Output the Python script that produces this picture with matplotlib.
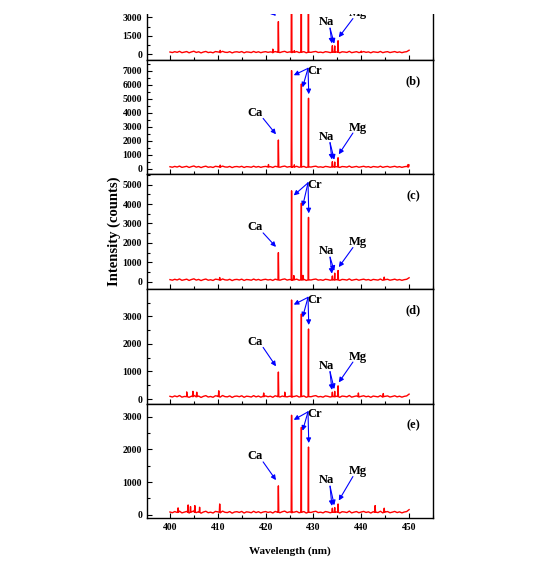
import numpy as np
import matplotlib.pyplot as plt
from matplotlib.ticker import MultipleLocator
from matplotlib.patches import Rectangle

plt.rcParams['font.family'] = ['Liberation Serif', 'DejaVu Serif']
plt.rcParams['font.weight'] = 'bold'

# emission lines (nm)
wl_ca = 422.67
wl_cr = [425.43, 427.48, 428.97]
wl_na = [433.96, 434.45]
wl_mg = 435.15

# peak heights per panel (a..e)
ca_h = [2650, 2050, 1500, 980, 885]
cr_h = [[12000, 11000, 10000], [7000, 6050, 5030], [4680, 4050, 3315],
        [3590, 3085, 2540], [3050, 2680, 2075]]
na_h = [[700, 680], [500, 480], [300, 445], [250, 280], [200, 220]]
mg_h = [1100, 785, 580, 480, 330]

# small spikes in the background (wl, counts)
spikes = [
    [(410.5, 320), (421.5, 420), (426.0, 300), (440.0, 260)],
    [(410.5, 260), (420.6, 300), (426.0, 280), (449.8, 300)],
    [(410.4, 220), (425.9, 320), (427.8, 330), (444.8, 240)],
    [(403.5, 260), (404.8, 280), (405.6, 250), (410.2, 300), (419.6, 220),
     (424.0, 250), (439.4, 220), (444.6, 200)],
    [(401.7, 210), (403.8, 300), (404.3, 250), (405.2, 280), (406.2, 230),
     (410.4, 330), (442.9, 280), (444.8, 200)],
]

# background ripple, 400..450 nm in 0.5 nm steps (relative units)
ripple = [0.2, -0.3, 0.5, -0.1, 0.8, -0.4, 0.1, 0.6, -0.5, 0.3,
          0.9, -0.2, 0.4, -0.6, 0.2, 0.7, -0.3, 0.1, -0.5, 0.6,
          0.3, -0.4, 0.8, 0.0, -0.2, 0.5, -0.6, 0.2, 0.4, -0.1,
          0.6, -0.5, 0.3, 0.1, -0.3, 0.7, -0.2, 0.4, -0.4, 0.2,
          0.5, -0.1, 0.3, -0.5, 0.6, 0.0, -0.3, 0.4, 0.8, -0.2,
          0.3, -0.4, 0.1, 0.6, -0.3, 0.2, 0.5, -0.5, 0.3, -0.1,
          0.4, 0.7, -0.2, 0.1, -0.4, 0.5, 0.2, -0.3, 0.6, -0.1,
          0.3, -0.5, 0.4, 0.2, -0.2, 0.8, -0.4, 0.1, 0.5, -0.3,
          0.2, 0.6, -0.1, 0.3, -0.5, 0.4, 0.1, -0.2, 0.7, -0.4,
          0.2, 0.5, -0.3, 0.1, 0.6, -0.2, 0.3, -0.4, 0.2, 0.5, 1.8]

base = [170, 130, 100, 90, 75]
noise_amp = [90, 75, 60, 50, 45]

ylims = [(-460, 8820), (-410, 7760), (-370, 5520), (-160, 3990), (-100, 3410)]
ystep = [1500, 1000, 1000, 1000, 1000]
labels = ['(a)', '(b)', '(c)', '(d)', '(e)']

fig = plt.figure(figsize=(5.54, 5.72), dpi=100)
W, H = 554.0, 572.0
left, width = 147 / W, 286 / W
ph = 114.5
tops = [-54.5, 60, 174.5, 289, 403.5]

for i in range(5):
    ax = fig.add_axes([left, 1 - (tops[i] + ph) / H, width, ph / H])
    grid = np.linspace(400, 450, len(ripple))
    yb = base[i] + noise_amp[i] * np.array(ripple)
    pts = list(zip(grid, yb))
    peaks = [(wl_ca, ca_h[i]), (wl_mg, mg_h[i])]
    peaks += list(zip(wl_cr, cr_h[i])) + list(zip(wl_na, na_h[i]))
    peaks += spikes[i]
    for px, hh in peaks:
        pts += [(px - 0.08, base[i]), (px, hh), (px + 0.08, base[i])]
    pts.sort()
    xs = [p[0] for p in pts]
    ys = [p[1] for p in pts]
    ax.plot(xs, ys, color='red', lw=1.0)

    ax.set_xlim(395.2, 455)
    ax.set_ylim(*ylims[i])
    ax.xaxis.set_major_locator(MultipleLocator(10))
    ax.xaxis.set_minor_locator(MultipleLocator(5))
    ax.yaxis.set_major_locator(MultipleLocator(ystep[i]))
    ax.yaxis.set_minor_locator(MultipleLocator(ystep[i] / 2))
    ax.tick_params(which='both', direction='in', labelsize=7, width=0.8)
    ax.tick_params(which='major', length=3.5)
    ax.tick_params(which='minor', length=2)
    ax.set_xticks(range(400, 451, 10))
    ax.set_yticks(range(0, int(ylims[i][1]), ystep[i]))
    for lab in ax.get_yticklabels() + ax.get_xticklabels():
        lab.set_fontweight('bold')
    if i < 4:
        ax.tick_params(labelbottom=False)
    for s in ax.spines.values():
        s.set_linewidth(1.0)

    R = ylims[i][1] - ylims[i][0]
    arr = dict(arrowstyle='-|>', color='blue', lw=0.8, mutation_scale=7,
               shrinkA=0, shrinkB=0)
    tf = dict(transform=ax.transAxes, ha='center', va='center',
              fontsize=9, fontweight='bold')
    ax.text(0.378, 0.54, 'Ca', **tf)
    ax.text(0.585, 0.905, 'Cr', **tf)
    ax.text(0.628, 0.33, 'Na', **tf)
    ax.text(0.737, 0.41, 'Mg', **tf)
    ax.text(0.931, 0.81, labels[i], **tf)

    ax.annotate('', xy=(wl_ca - 0.5, ca_h[i] + 0.05 * R), xytext=(0.406, 0.49),
                textcoords='axes fraction', arrowprops=arr)
    cr_tips = [(wl_cr[0] + 0.45, cr_h[i][0] - 0.04 * R),
               (wl_cr[1] + 0.25, cr_h[i][1] - 0.03 * R),
               (wl_cr[2] + 0.05, cr_h[i][2] + 0.035 * R)]
    for tip in cr_tips:
        ax.annotate('', xy=tip, xytext=(0.563, 0.927),
                    textcoords='axes fraction', arrowprops=arr)
    for k in range(2):
        ax.annotate('', xy=(wl_na[k] - 0.1, na_h[i][k] + 0.02 * R),
                    xytext=(0.64, 0.278), textcoords='axes fraction',
                    arrowprops=arr)
    ax.annotate('', xy=(wl_mg + 0.15, mg_h[i] + 0.03 * R), xytext=(0.72, 0.362),
                textcoords='axes fraction', arrowprops=arr)

# the source figure is cropped just above panel (a)
fig.add_artist(Rectangle((0, 1 - 14 / H), 1, 14 / H, transform=fig.transFigure,
                         facecolor='white', edgecolor='none', zorder=20))

fig.text(114 / W, 1 - 231 / H, 'Intensity (counts)', rotation=90,
         ha='center', va='center', fontsize=10.5, fontweight='bold')
fig.text(290 / W, 1 - 551 / H, 'Wavelength (nm)', ha='center', va='center',
         fontsize=8, fontweight='bold')

fig.savefig('out.png', dpi=100)
